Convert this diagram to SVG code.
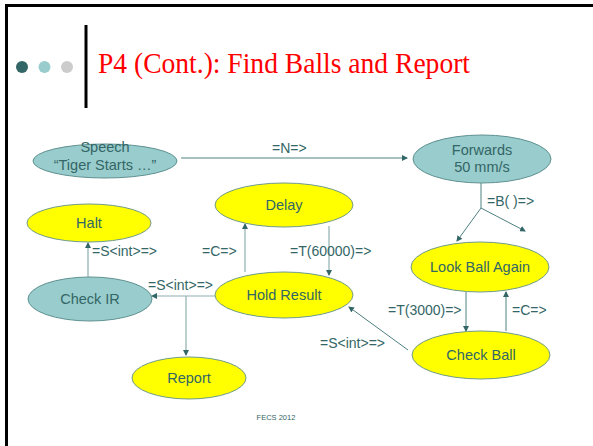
<svg xmlns="http://www.w3.org/2000/svg" width="593" height="446" viewBox="0 0 593 446">
<style>
.teal{fill:#99CCCC;stroke:#5F9191;stroke-width:1}
.yel{fill:#FFFF00;stroke:#6F9A8A;stroke-width:1}
.nt{font-family:"Liberation Sans",Arial,sans-serif;font-size:14.5px;fill:#336666;text-anchor:middle}
.lb{font-family:"Liberation Sans",Arial,sans-serif;font-size:14px;fill:#336666}
.ln{stroke:#4F8080;stroke-width:1;fill:none}
.ln2{stroke:#8FAFAF;stroke-width:1.2;fill:none}
</style>
<defs>
<marker id="ah" markerWidth="6" markerHeight="6" refX="5" refY="3" orient="auto" markerUnits="userSpaceOnUse">
<path d="M0,0 L6,3 L0,6 z" fill="#336666"/>
</marker>
</defs>
<rect x="0" y="0" width="593" height="446" fill="#fff"/>
<g id="frame">
<line x1="5" y1="5.5" x2="593" y2="5.5" stroke="#000" stroke-width="3"/>
<line x1="6.5" y1="4" x2="6.5" y2="446" stroke="#000" stroke-width="3"/>
<line x1="86" y1="25" x2="86" y2="108" stroke="#000" stroke-width="3"/>
<circle cx="22" cy="67" r="6" fill="#336666"/>
<circle cx="44.5" cy="67" r="6" fill="#99CCCC"/>
<circle cx="67" cy="67" r="6" fill="#CCCCCC"/>
<text x="98" y="73" font-family="'Liberation Serif','Times New Roman',serif" font-size="29" fill="#FF0000" textLength="372" lengthAdjust="spacingAndGlyphs">P4 (Cont.): Find Balls and Report</text>
<text x="276" y="420" font-family="'Liberation Sans',Arial,sans-serif" font-size="7.5" fill="#336666" text-anchor="middle">FECS 2012</text>
</g>
<g id="connectors">
<line class="ln" x1="181" y1="158" x2="407" y2="158" marker-end="url(#ah)"/>
<text class="lb" x="272" y="153">=N=&gt;</text>
<polyline class="ln" points="481,183 481,208"/>
<line class="ln" x1="481" y1="208" x2="457" y2="241" marker-end="url(#ah)"/>
<line class="ln" x1="481" y1="208" x2="525" y2="231" marker-end="url(#ah)"/>
<text class="lb" x="487" y="206">=B( )=&gt;</text>
<line class="ln2" x1="329" y1="226" x2="329" y2="275" marker-end="url(#ah)"/>
<text class="lb" x="290" y="256">=T(60000)=&gt;</text>
<line class="ln2" x1="245" y1="272" x2="245" y2="224" marker-end="url(#ah)"/>
<text class="lb" x="202" y="256">=C=&gt;</text>
<line class="ln2" x1="215" y1="296" x2="152" y2="296" marker-end="url(#ah)"/>
<text class="lb" x="148" y="290">=S&lt;int&gt;=&gt;</text>
<line class="ln2" x1="186" y1="296" x2="186" y2="355" marker-end="url(#ah)"/>
<line class="ln2" x1="88" y1="277" x2="88" y2="243" marker-end="url(#ah)"/>
<text class="lb" x="92" y="256">=S&lt;int&gt;=&gt;</text>
<line class="ln" x1="466" y1="292" x2="466" y2="331" marker-end="url(#ah)"/>
<text class="lb" x="388" y="315">=T(3000)=&gt;</text>
<line class="ln" x1="506" y1="331" x2="506" y2="292" marker-end="url(#ah)"/>
<text class="lb" x="512" y="315">=C=&gt;</text>
<line class="ln" x1="408" y1="350" x2="349" y2="307" marker-end="url(#ah)"/>
<text class="lb" x="320" y="348">=S&lt;int&gt;=&gt;</text>
</g>
<g id="speech">
<ellipse class="teal" cx="105" cy="161" rx="72" ry="17"/>
<text class="nt" x="105" y="152">Speech</text>
<text class="nt" x="105" y="170">“Tiger Starts …”</text>
</g>
<g id="forwards">
<ellipse class="teal" cx="482" cy="159" rx="69" ry="24"/>
<text class="nt" x="482" y="155">Forwards</text>
<text class="nt" x="482" y="172">50 mm/s</text>
</g>
<g id="delay">
<ellipse class="yel" cx="284" cy="205" rx="69" ry="22"/>
<text class="nt" x="284" y="210">Delay</text>
</g>
<g id="halt">
<ellipse class="yel" cx="89" cy="223" rx="62" ry="19"/>
<text class="nt" x="89" y="228">Halt</text>
</g>
<g id="lookball">
<ellipse class="yel" cx="480" cy="267" rx="69" ry="25"/>
<text class="nt" x="480" y="272">Look Ball Again</text>
</g>
<g id="holdresult">
<ellipse class="yel" cx="284" cy="295" rx="69" ry="23"/>
<text class="nt" x="284" y="300">Hold Result</text>
</g>
<g id="checkir">
<ellipse class="teal" cx="90" cy="299" rx="62" ry="22"/>
<text class="nt" x="90" y="304">Check IR</text>
</g>
<g id="report">
<ellipse class="yel" cx="189" cy="378" rx="57" ry="21"/>
<text class="nt" x="189" y="383">Report</text>
</g>
<g id="checkball">
<ellipse class="yel" cx="481" cy="355" rx="69" ry="24"/>
<text class="nt" x="481" y="360">Check Ball</text>
</g>
</svg>
